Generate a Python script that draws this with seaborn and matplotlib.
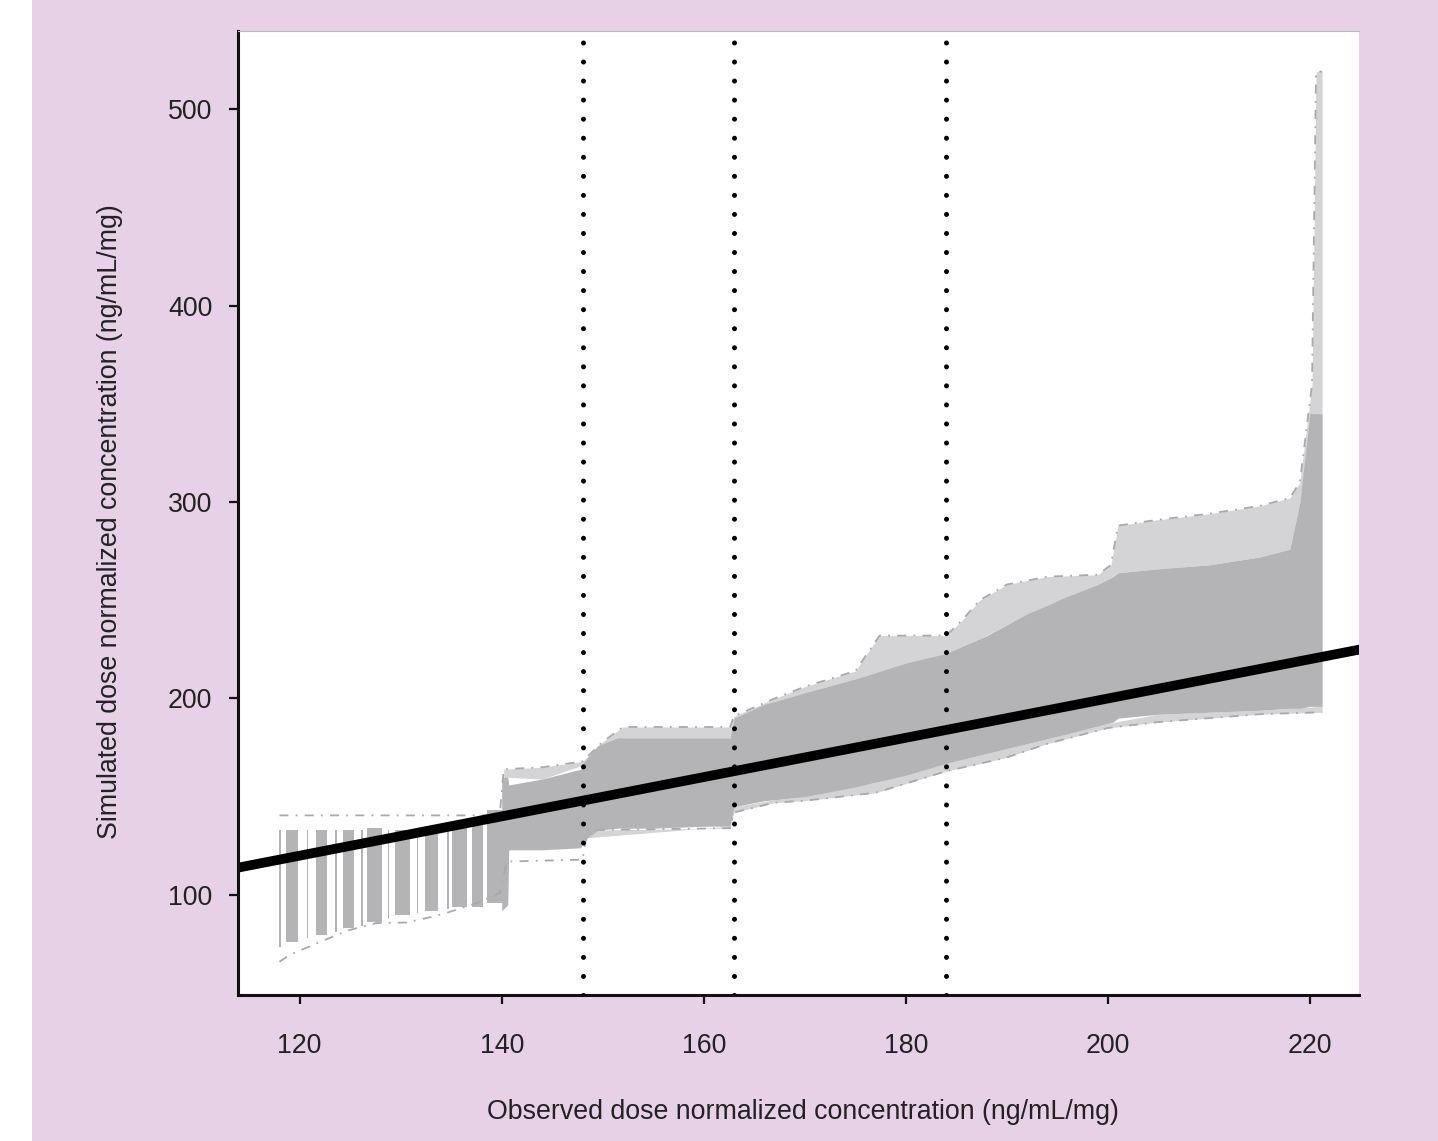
import numpy as np
import seaborn as sns
import matplotlib.pyplot as plt
from matplotlib.patches import Rectangle

# observed values on the left where simulations come in discrete columns
stripe_left  = [118.0, 118.7, 120.7, 121.6, 123.5, 124.3, 126.1, 126.7, 128.7, 129.4, 131.6, 132.4, 134.6, 135.1, 137.1, 138.5]
stripe_right = [118.15, 119.8, 120.85, 122.7, 123.65, 125.4, 126.25, 128.2, 128.85, 130.9, 131.75, 133.7, 134.75, 136.6, 138.1, 140.1]
stripe_lo    = [73.5, 76, 78, 79.6, 81, 83, 84, 86, 88, 90, 91, 92, 93, 94, 94, 96]
stripe_hi    = [133, 133, 133, 133, 133, 133, 133, 134, 133, 133, 132, 131.5, 134, 135.6, 138, 143]

# dense band of simulated values
band_x  = [140.0, 140.6, 140.7, 144, 147.8, 148.2, 149.5, 151.5, 155, 160, 162.6, 163.0, 166, 170, 175,
           180, 184, 188, 192, 196, 199, 200.5, 201.0, 205, 210, 215, 218, 219.0, 220.0, 221.2]
band_lo = [92, 95, 123, 123, 124, 128, 133, 134, 134, 135, 135, 145, 148, 150, 155,
           161, 167, 172, 177, 182, 186, 188, 190, 192, 193, 194, 195, 195, 196, 196]
band_hi = [160, 160, 156, 159, 164, 168, 176, 180, 180, 180, 180, 190, 197, 203, 210,
           218, 223, 232, 243, 252, 258, 262, 264, 266, 268, 272, 276, 300, 345, 345]

# outermost simulated replicates (upper / lower)
hi_x = [118.0, 139.8, 140.2, 144, 148, 150, 152, 162.6, 163.0, 167, 170, 175, 177.4, 184, 185.6, 187.3,
        190, 194, 199, 200.3, 201, 205, 210, 215, 218, 219, 220.2, 220.6, 221.2]
hi_y = [140.5, 140.5, 164, 165, 168, 178, 185.5, 185.5, 191, 200, 206, 214, 232, 232, 240, 250,
        258, 262, 263, 268, 288, 291, 294, 298, 302, 310, 360, 519, 519]
lo_x = [118.0, 119, 121.8, 124.8, 127.6, 130.6, 133.2, 134.6, 137.6, 139.8, 140.5, 148, 148.5, 162.6,
        163.0, 167, 170, 177, 184, 190, 194, 200, 205, 210, 215, 221.2]
lo_y = [66, 69.5, 75.6, 82, 85.7, 86, 89, 91, 96, 101, 117, 118, 133, 134,
        142, 147, 148, 152, 163, 170, 177, 185, 188, 190, 192, 193]

cutoffs = [148, 163, 184]
identity = np.array([110, 230])

sns.set_theme(style='ticks')
plt.rcParams['font.family'] = ['Liberation Sans', 'DejaVu Sans']

fig = plt.figure(figsize=(14.38, 11.41), dpi=100)
fig.patch.set_facecolor('#e6d1e6')
fig.patches.append(Rectangle((0, 0), 32 / 1438, 1, transform=fig.transFigure,
                             facecolor='white', edgecolor='none', zorder=0))
ax = fig.add_axes([238 / 1438, 146 / 1141, 1121 / 1438, 964 / 1141])
ax.set_facecolor('white')

dense = '#b4b4b6'
sparse = '#d4d4d6'
line_gray = '#a9a9ab'
dashdot = (0, (5, 4, 1, 4))

# discrete columns
for l, r, lo, hi in zip(stripe_left, stripe_right, stripe_lo, stripe_hi):
    ax.fill_between([l, r], [lo, lo], [hi, hi], color=dense, lw=0)

# sparse zone between dense band and outer replicates
hx = np.array(hi_x)
lx = np.array(lo_x)
m_hi = hx >= 140.2
m_lo = lx >= 148.5
ax.fill_between(hx[m_hi], np.interp(hx[m_hi], band_x, band_hi), np.array(hi_y)[m_hi],
                color=sparse, lw=0)
ax.fill_between(lx[m_lo], np.array(lo_y)[m_lo], np.interp(lx[m_lo], band_x, band_lo),
                color=sparse, lw=0)

ax.fill_between(band_x, band_lo, band_hi, color=dense, lw=0)

sns.lineplot(x=hi_x, y=hi_y, ax=ax, color=line_gray, lw=1.3, linestyle=dashdot,
             estimator=None, sort=False)
sns.lineplot(x=lo_x, y=lo_y, ax=ax, color=line_gray, lw=1.3, linestyle=dashdot,
             estimator=None, sort=False)

# line of identity
sns.lineplot(x=identity, y=identity, ax=ax, color='black', lw=7, estimator=None)

for c in cutoffs:
    ax.axvline(c, color='black', lw=3.6, linestyle=(0, (0.01, 3.8)),
               dash_capstyle='round', zorder=4)

ax.set_xlim(113.9, 224.85)
ax.set_ylim(49.1, 539.7)
ax.set_xticks([120, 140, 160, 180, 200, 220])
ax.set_yticks([100, 200, 300, 400, 500])

for s in ['left', 'bottom']:
    ax.spines[s].set_color('#111111')
    ax.spines[s].set_linewidth(2.2)
ax.spines['right'].set_visible(False)
ax.spines['top'].set_color('#bbbbbb')
ax.spines['top'].set_linewidth(0.8)

ax.tick_params(axis='both', direction='out', length=6.5, width=1.6, color='#111111',
               labelsize=19.3, labelcolor='#222222')
ax.tick_params(axis='x', pad=21)
ax.tick_params(axis='y', pad=12)

ax.set_xlabel('Observed dose normalized concentration (ng/mL/mg)', fontsize=19.3,
              color='#222222', va='center')
ax.set_ylabel('Simulated dose normalized concentration (ng/mL/mg)', fontsize=19.3,
              color='#222222', va='center')
ax.xaxis.set_label_coords(0.504, -0.121)
ax.yaxis.set_label_coords(-0.114, 0.491)

fig.savefig('out.png', dpi=100, facecolor=fig.get_facecolor())
